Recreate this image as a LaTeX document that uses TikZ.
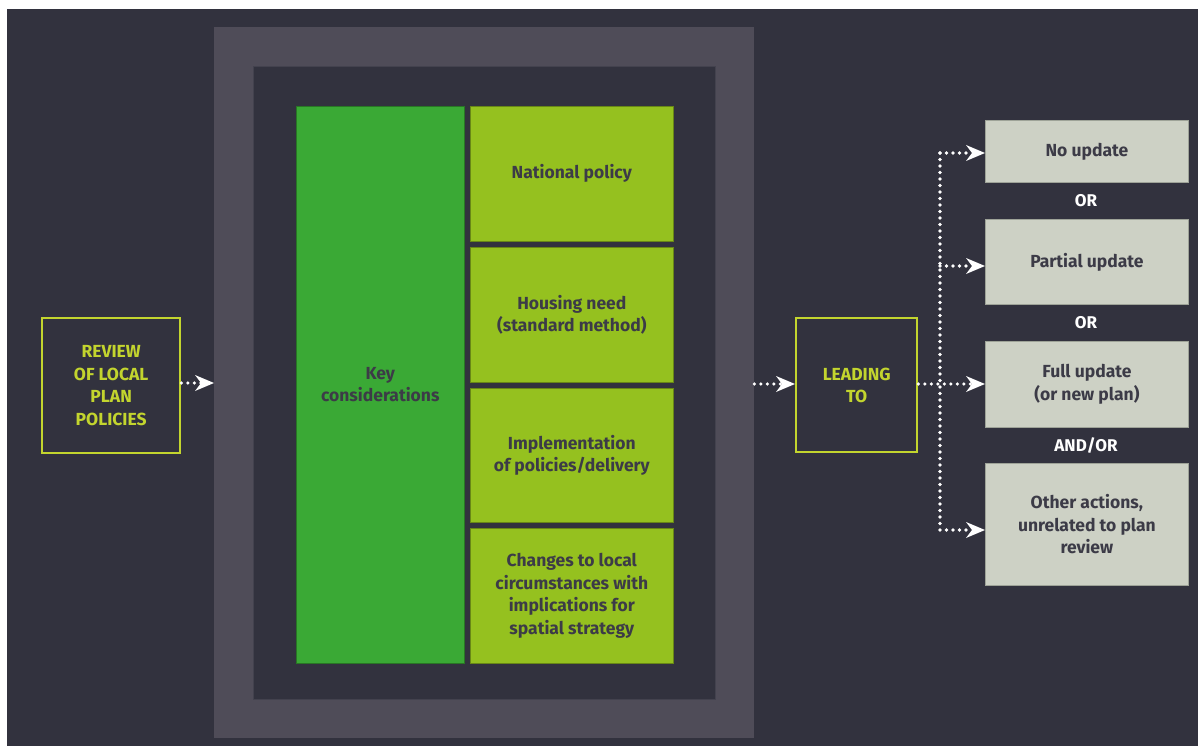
\documentclass[tikz,border=0pt]{standalone}
\usepackage{fontspec}
\setmainfont{Fira Sans}
\usetikzlibrary{arrows.meta}
\definecolor{bgdark}{HTML}{32323E}
\definecolor{framegray}{HTML}{4F4C58}
\definecolor{keygreen}{HTML}{3AA935}
\definecolor{limegreen}{HTML}{95C11F}
\definecolor{optiongray}{HTML}{CDD1C5}
\definecolor{optionedge}{HTML}{9EA398}
\definecolor{accent}{HTML}{C3D52E}
\definecolor{inktext}{HTML}{3C3B47}
\tikzset{
  box/.style={anchor=north west, inner sep=0pt, align=center,
    font=\fontsize{17.5}{22.5}\selectfont\bfseries},
  keybox/.style={box, fill=keygreen, draw=keygreen!70!black, line width=0.6pt, text=inktext},
  topicbox/.style={box, fill=limegreen, draw=limegreen!70!black, line width=0.6pt, text=inktext},
  stagebox/.style={box, draw=accent, line width=2.4pt, text=accent},
  optionbox/.style={box, fill=optiongray, draw=optionedge, line width=0.8pt, text=inktext},
  joiner/.style={inner sep=0pt, text=white, font=\fontsize{17}{20}\selectfont\bfseries},
  flow/.style={draw=white, line width=3.6pt, line cap=round, dash pattern=on 0pt off 6.5pt},
  flowtip/.style={flow, -{Stealth[length=19pt,width=16pt,inset=6pt,line width=0pt,fill=white,sep=0pt]}},
}
\begin{document}
\begin{tikzpicture}[x=1pt,y=-1pt]
  % page and dark panel
  \fill[white] (0,0) rectangle (1198,746);
  \fill[bgdark] (7,9) rectangle (1198,746);
  \useasboundingbox (0,0) rectangle (1198,746);

  % nested frame around the considerations
  \node[box, fill=framegray, minimum width=540pt, minimum height=711pt] (frame) at (214,27) {};
  \node[box, fill=bgdark, draw=framegray!60!bgdark, line width=0.6pt,
        minimum width=462pt, minimum height=633pt] (inner) at (253,66) {};

  % key considerations and topics
  \node[keybox, minimum width=168pt, minimum height=557pt] (key) at (296,106) {Key\\considerations};
  \node[topicbox, minimum width=203pt, minimum height=135pt] (national) at (470,106) {National policy};
  \node[topicbox, minimum width=203pt, minimum height=135pt] (housing) at (470,247) {Housing need\\(standard method)};
  \node[topicbox, minimum width=203pt, minimum height=134pt] (delivery) at (470,388) {Implementation\\of policies/delivery};
  \node[topicbox, minimum width=203pt, minimum height=135pt] (circum) at (470,528) {Changes to local\\circumstances with\\implications for\\spatial strategy};

  % stages
  \node[stagebox, minimum width=138pt, minimum height=135pt] (review) at (41,317) {REVIEW\\OF LOCAL\\PLAN\\POLICIES};
  \node[stagebox, minimum width=121pt, minimum height=134pt] (lead) at (795,317) {LEADING\\TO};

  % outcomes
  \node[optionbox, minimum width=203pt, minimum height=62pt] (noup) at (985,120) {No update};
  \node[optionbox, minimum width=203pt, minimum height=85pt] (partial) at (985,219) {Partial update};
  \node[optionbox, minimum width=203pt, minimum height=86pt] (full) at (985,341) {Full update\\(or new plan)};
  \node[optionbox, minimum width=203pt, minimum height=122pt] (other) at (985,463) {Other actions,\\unrelated to plan\\review};

  \node[joiner] (or1) at (1086,201) {OR};
  \node[joiner] (or2) at (1086,323) {OR};
  \node[joiner] (andor) at (1086,446) {AND/OR};

  % flow connectors
  \coordinate (t1) at (940,153);
  \coordinate (t2) at (940,266);
  \coordinate (t4) at (940,530);
  \draw[flowtip] (review.east |- 0,383) -- (frame.west |- 0,383);
  \draw[flowtip] (frame.east |- 0,384) -- (lead.west |- 0,384);
  \draw[flow] (t1) -- (t4);
  \draw[flowtip] (lead.east |- 0,384) -- (full.west |- 0,384);
  \draw[flowtip] (t1) -- (t1 -| noup.west);
  \draw[flowtip] (t2) -- (t2 -| partial.west);
  \draw[flowtip] (t4) -- (t4 -| other.west);
\end{tikzpicture}
\end{document}
